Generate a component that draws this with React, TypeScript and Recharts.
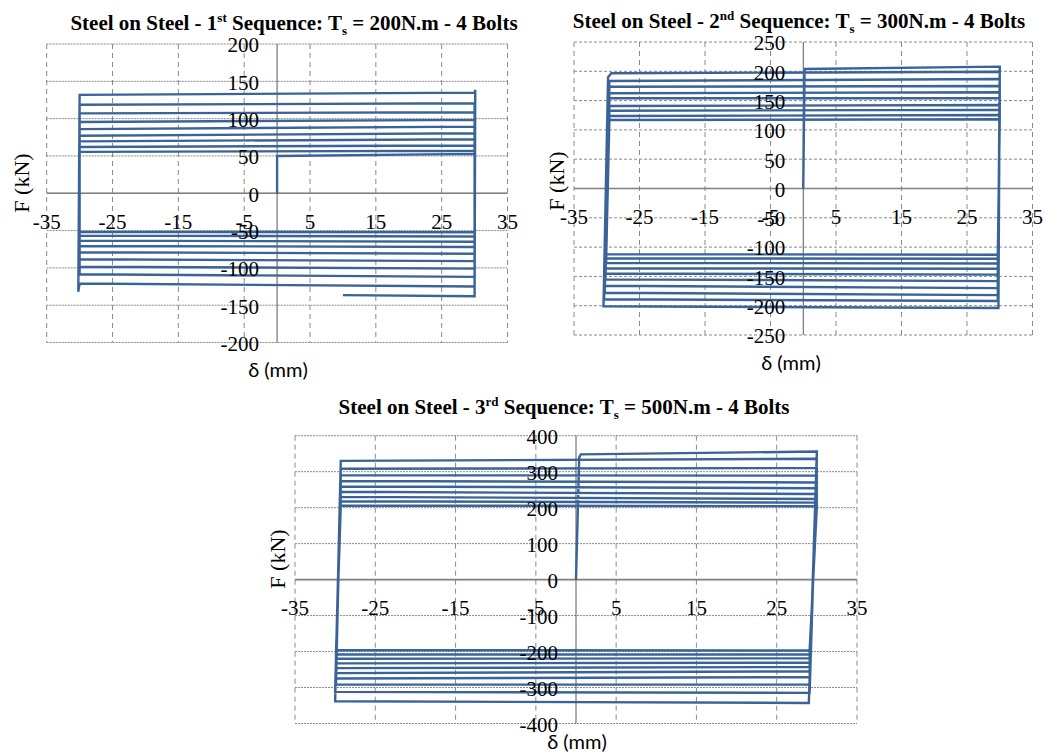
import React from 'react';
import { LineChart, Line, XAxis, YAxis, CartesianGrid, ReferenceLine, ReferenceDot } from 'recharts';

// ---------- tick values ----------
const X_TICKS = [-35, -25, -15, -5, 5, 15, 25, 35];
const Y_TICKS_1 = [-200, -150, -100, -50, 0, 50, 100, 150, 200];
const Y_TICKS_2 = [-250, -200, -150, -100, -50, 0, 50, 100, 150, 200, 250];
const Y_TICKS_3 = [-400, -300, -200, -100, 0, 100, 200, 300, 400];

// ---------- 1st sequence (Ts = 200 N.m) : displacement δ (mm) / force F (kN) ----------
const DELTA_1 = [
  0, 0, 30, 30, -30, -30, 30, 30, -30, -30, 30, 30, -30, -30, 30, 30, -30, -30, 30, 30, -30,
  -30, 30, 30, -30, -30, 30, 30, -30, -30, 30, 30, -30, -30, 30, 30, -30, -30.2, -30, 30, 30.1, 30, 10,
];
const FORCE_1 = [
  0, 50, 52.7, -52.3, -51.5, 55.5, 57, -58, -56.8, 62, 64, -65, -63.5, 69.5, 72.4, -72, -70.6, 77, 80.4, -81, -79.1,
  86, 89.3, -91, -88.5, 95.5, 98.3, -101, -98.4, 107, 108.6, -112, -108.6, 118.5, 120.6, -125, -121, -132, 131.8, 134.8, 138.5, -138, -136.5,
];

// ---------- 2nd sequence (Ts = 300 N.m) ----------
const DELTA_2 = [
  0, 0.2, 30, 29.8, -30.5, -29.8, -29.3, 30, 29.7, -30.4, -29.6, 30, 29.7, -30.3, -29.6, 30, 29.7, -30.3, -29.6, 30,
  29.7, -30.2, -29.6, 30, 29.7, -30.2, -29.6, 30, 29.7, -30.2, -29.6, 30, 29.7, -30.1, -29.6, 30, 29.7, -30.1, -29.6, 30,
  29.7, -30.1,
];
const FORCE_2 = [
  0, 204, 208, -204, -201, 190, 196.6, 199.3, -192, -189, 183.4, 186.9, -182, -178, 173.7, 174.9, -170, -166, 162.5, 164.2,
  -158, -155, 153.9, 153.9, -147, -145, 140.8, 142.5, -137, -136, 132.8, 134.1, -128, -127, 123.7, 125.4, -120, -119, 116.9, 118.1,
  -113, -112,
];

// ---------- 3rd sequence (Ts = 500 N.m) ----------
const DELTA_3 = [
  0, 0.4, 0.6, 30, 29, -30, -29.3, 30, 29.1, -30, -29.3, 30, 29.1, -29.9, -29.3, 30, 29.1, -29.9, -29.3, 30, 29.1, -29.9,
  -29.3, 30, 29.1, -29.9, -29.3, 30, 29.1, -29.9, -29.3, 30, 29.1, -29.9, -29.3, 30, 29.1, -29.9, -29.3, 30, 29.1, -29.9,
];
const FORCE_3 = [
  0, 340, 348, 356, -343, -338, 330, 336, -315, -312, 308, 310, -292, -292, 290, 289, -271, -275, 274, 270, -255, -260,
  259, 254, -243, -246, 244, 238, -231, -233, 230, 224, -219, -220, 218, 214, -208, -208, 206, 204, -197, -196,
];

const toData = (d: number[], f: number[]) => d.map((v, i) => ({ d: v, f: f[i] }));
const DATA_1 = toData(DELTA_1, FORCE_1);
const DATA_2 = toData(DELTA_2, FORCE_2);
const DATA_3 = toData(DELTA_3, FORCE_3);

const SERIF = '"Liberation Serif", "Times New Roman", serif';
const SANS = 'Lato, "Open Sans", sans-serif';
const BLUE = '#3A6498';
const GRID = '#8a8a8a';

type PanelProps = {
  data: { d: number; f: number }[];
  yTicks: number[];
  width: number;
  height: number;
  margin: { top: number; right: number; bottom: number; left: number };
  hDash: string;
};

const tickTextStyle: React.CSSProperties = { fontFamily: SERIF, fontSize: 21 };

function Panel({ data, yTicks, width, height, margin, hDash }: PanelProps) {
  const xLabel = (t: number) => (p: any) => {
    const vb = p.viewBox || {};
    return (
      <text x={vb.x} y={vb.y + 28} dy="0.35em" textAnchor="middle" fill="#000" style={tickTextStyle}>
        {t}
      </text>
    );
  };
  const yLabel = (t: number) => (p: any) => {
    const vb = p.viewBox || {};
    return (
      <text x={vb.x - 18} y={vb.y + 1} dy="0.35em" textAnchor="end" fill="#000" style={tickTextStyle}>
        {t}
      </text>
    );
  };
  return (
    <LineChart width={width} height={height} data={data} margin={margin}>
      <XAxis type="number" dataKey="d" domain={[-35, 35]} ticks={X_TICKS} hide allowDataOverflow />
      <YAxis type="number" domain={[yTicks[0], yTicks[yTicks.length - 1]]} ticks={yTicks} hide allowDataOverflow />
      <CartesianGrid horizontal={false} vertical stroke={GRID} strokeDasharray="5 4" />
      <CartesianGrid horizontal vertical={false} stroke={GRID} strokeDasharray={hDash} />
      <ReferenceLine y={0} stroke="#808080" strokeWidth={1.6} />
      <ReferenceLine x={0} stroke="#5a5a5a" strokeWidth={1} />
      <Line type="linear" dataKey="f" stroke={BLUE} strokeWidth={2.4} dot={false} isAnimationActive={false} />
      {X_TICKS.map((t) => (
        <ReferenceDot key={'x' + t} x={t} y={0} r={0} fill="none" stroke="none" ifOverflow="visible" label={xLabel(t)} />
      ))}
      {yTicks.map((t) => (
        <ReferenceDot key={'y' + t} x={0} y={t} r={0} fill="none" stroke="none" ifOverflow="visible" label={yLabel(t)} />
      ))}
    </LineChart>
  );
}

const supStyle: React.CSSProperties = { fontSize: '0.62em', verticalAlign: 'super', lineHeight: 0 };
const subStyle: React.CSSProperties = { fontSize: '0.62em', verticalAlign: 'sub', lineHeight: 0 };

function Title({ x, y, ord, sup, torque }: { x: number; y: number; ord: string; sup: string; torque: string }) {
  return (
    <div
      style={{
        position: 'absolute', left: x, top: y, transform: 'translate(-50%, -50%)', whiteSpace: 'nowrap',
        fontFamily: SERIF, fontWeight: 'bold', fontSize: 21, lineHeight: 1, color: '#000',
      }}
    >
      Steel on Steel - {ord}<span style={supStyle}>{sup}</span> Sequence: T<span style={subStyle}>s</span> = {torque}N.m - 4 Bolts
    </div>
  );
}

function YTitle({ x, y }: { x: number; y: number }) {
  return (
    <div
      style={{
        position: 'absolute', left: x, top: y, transform: 'translate(-50%, -50%) rotate(-90deg)', whiteSpace: 'nowrap',
        fontFamily: SERIF, fontSize: 22, lineHeight: 1, color: '#000',
      }}
    >
      F (kN)
    </div>
  );
}

function XTitle({ x, y }: { x: number; y: number }) {
  return (
    <div
      style={{
        position: 'absolute', left: x, top: y, transform: 'translate(-50%, -50%)', whiteSpace: 'nowrap',
        fontFamily: SANS, fontSize: 20, lineHeight: 1, color: '#000',
      }}
    >
      δ (mm)
    </div>
  );
}

export default function App() {
  return (
    <div style={{ position: 'absolute', left: 0, top: 0, width: 1045, height: 753, background: '#fff', overflow: 'hidden' }}>
      <div style={{ position: 'absolute', left: 0, top: 30 }}>
        <Panel data={DATA_1} yTicks={Y_TICKS_1} width={530} height={340} margin={{ top: 14, right: 22.5, bottom: 27.5, left: 46.7 }} hDash="2 1" />
      </div>
      <div style={{ position: 'absolute', left: 540, top: 30 }}>
        <Panel data={DATA_2} yTicks={Y_TICKS_2} width={505} height={330} margin={{ top: 12, right: 12.5, bottom: 25, left: 34 }} hDash="3 2" />
      </div>
      <div style={{ position: 'absolute', left: 250, top: 420 }}>
        <Panel data={DATA_3} yTicks={Y_TICKS_3} width={640} height={320} margin={{ top: 15.7, right: 33, bottom: 16.5, left: 45 }} hDash="2 1" />
      </div>

      <Title x={294} y={23} ord="1" sup="st" torque="200" />
      <Title x={799} y={21} ord="2" sup="nd" torque="300" />
      <Title x={564} y={407} ord="3" sup="rd" torque="500" />

      <YTitle x={22} y={183} />
      <YTitle x={557} y={181} />
      <YTitle x={278} y={559} />

      <XTitle x={278} y={369} />
      <XTitle x={791} y={362} />
      <XTitle x={577} y={741} />
    </div>
  );
}
